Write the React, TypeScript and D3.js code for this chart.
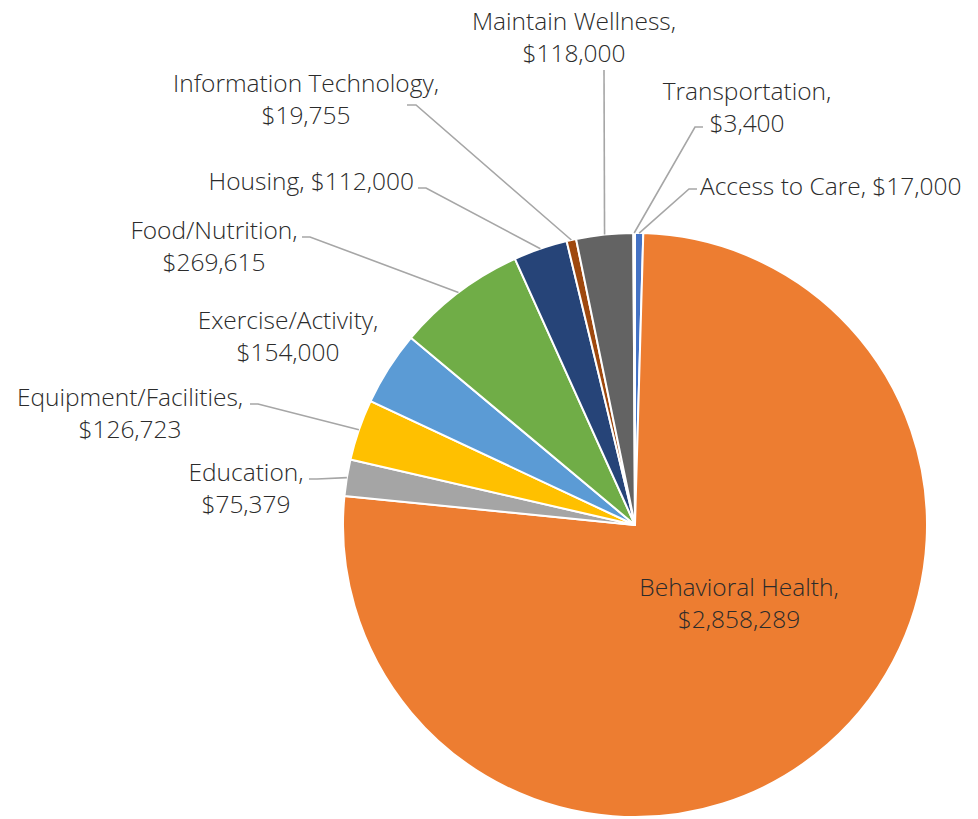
import React, { useRef, useEffect } from 'react';
import * as d3 from 'd3';

// chart data
const categories = [
  'Access to Care',
  'Behavioral Health',
  'Education',
  'Equipment/Facilities',
  'Exercise/Activity',
  'Food/Nutrition',
  'Housing',
  'Information Technology',
  'Maintain Wellness',
  'Transportation',
];
const values = [17000, 2858289, 75379, 126723, 154000, 269615, 112000, 19755, 118000, 3400];
const colors = [
  '#4472C4', '#ED7D31', '#A5A5A5', '#FFC000', '#5B9BD5',
  '#70AD47', '#264478', '#9E480E', '#636363', '#997300',
];

// label placement (page coords): text x, first baseline, anchor, single line, leader start, elbow
const labelLayout = [
  { x: 700, y: 195, anchor: 'start', oneLine: true, lead: [697, 189], elbow: -8 },
  { x: 739, y: 596, anchor: 'middle', oneLine: false, lead: null, elbow: 0 },
  { x: 246, y: 481, anchor: 'middle', oneLine: false, lead: [309, 479], elbow: 8 },
  { x: 130, y: 406, anchor: 'middle', oneLine: false, lead: [250, 404], elbow: 8 },
  { x: 288, y: 329, anchor: 'middle', oneLine: false, lead: null, elbow: 0 },
  { x: 214, y: 239, anchor: 'middle', oneLine: false, lead: [302, 237], elbow: 8 },
  { x: 414, y: 190, anchor: 'end', oneLine: true, lead: [418, 188], elbow: 8 },
  { x: 306, y: 92, anchor: 'middle', oneLine: false, lead: [407, 105], elbow: 9 },
  { x: 574, y: 30, anchor: 'middle', oneLine: false, lead: [604, 70], elbow: 0 },
  { x: 747, y: 100, anchor: 'middle', oneLine: false, lead: [703, 127], elbow: -8 },
];

const width = 978;
const height = 819;
const cx = 635;
const cy = 525;
const radius = 292;

const App = () => {
  const svgRef = useRef(null);

  useEffect(() => {
    const svg = d3.select(svgRef.current);
    svg.selectAll('*').remove();

    const data = categories.map((c, i) => ({ name: c, value: values[i], color: colors[i], layout: labelLayout[i] }));

    const pie = d3.pie<any>().sort(null).value(d => d.value);
    const arcs = pie(data);
    const arc = d3.arc<any>().innerRadius(0).outerRadius(radius);
    const fmt = d3.format('$,');

    const g = svg.append('g').attr('transform', `translate(${cx},${cy})`);

    g.selectAll('path')
      .data(arcs)
      .enter()
      .append('path')
      .attr('d', arc)
      .attr('fill', d => d.data.color)
      .attr('stroke', '#ffffff')
      .attr('stroke-width', 2)
      .attr('stroke-linejoin', 'round');

    // leader lines from label to the slice edge at its mid angle
    arcs.forEach(d => {
      const l = d.data.layout;
      if (!l.lead) return;
      const mid = (d.startAngle + d.endAngle) / 2;
      const ex = cx + radius * Math.sin(mid);
      const ey = cy - radius * Math.cos(mid);
      const pts = [l.lead, [l.lead[0] + l.elbow, l.lead[1]], [ex, ey]];
      svg
        .append('path')
        .attr('d', d3.line()(pts as [number, number][]))
        .attr('fill', 'none')
        .attr('stroke', '#A6A6A6')
        .attr('stroke-width', 1.6);
    });

    // labels
    arcs.forEach(d => {
      const l = d.data.layout;
      const t = svg
        .append('text')
        .attr('x', l.x)
        .attr('y', l.y)
        .attr('text-anchor', l.anchor)
        .attr('fill', '#2b2b2b')
        .style('font-family', '"Open Sans", sans-serif')
        .style('font-weight', 300)
        .style('font-size', '24.5px');
      if (l.oneLine) {
        t.text(`${d.data.name}, ${fmt(d.data.value)}`);
      } else {
        t.append('tspan').attr('x', l.x).text(`${d.data.name},`);
        t.append('tspan').attr('x', l.x).attr('dy', 32).text(fmt(d.data.value));
      }
    });
  }, []);

  return (
    <svg
      ref={svgRef}
      width={width}
      height={height}
      style={{ position: 'absolute', left: 0, top: 0, background: '#ffffff' }}
    />
  );
};

export default App;
